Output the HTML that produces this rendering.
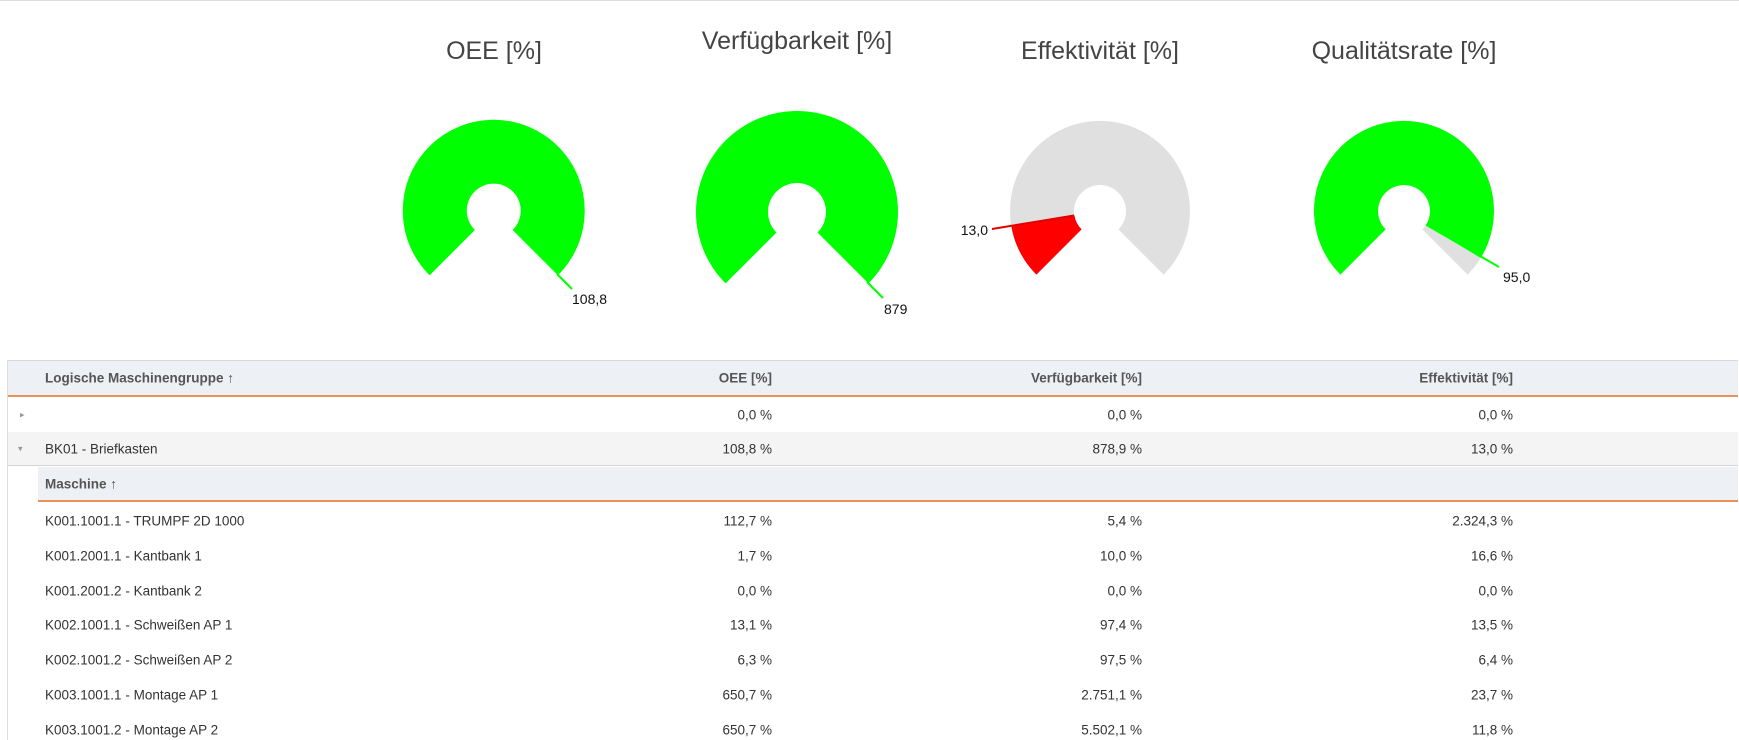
<!DOCTYPE html>
<html><head><meta charset="utf-8"><style>
body{margin:0;width:1739px;height:740px;overflow:hidden;background:#fff;font-family:"Liberation Sans",sans-serif;position:relative}
.t{position:absolute;white-space:nowrap}
.title{font-size:25px;color:#444;font-weight:300;transform:translateX(-50%)}
.c{font-size:13.5px;color:#333;transform:translateY(-50%)}
.r{text-align:right}
.h{font-weight:bold;color:#555}
.band{position:absolute;left:8px;right:1px}
</style></head><body>
<div style="position:absolute;left:0;top:0;width:1739px;height:1px;background:#ddd"></div>
<div class="t title" style="left:494px;top:37px">OEE [%]</div>
<div class="t title" style="left:797px;top:27px">Verfügbarkeit [%]</div>
<div class="t title" style="left:1100px;top:37px">Effektivität [%]</div>
<div class="t title" style="left:1404px;top:37px">Qualitätsrate [%]</div>
<svg width="1739" height="360" style="position:absolute;left:0;top:0">
<g font-family="Liberation Sans,sans-serif" font-size="14" fill="#111">
<!-- OEE -->
<path d="M429.6,275.3 A91,91 0 1 1 557.9,275.3 L512.6,230 A27,27 0 1 0 474.9,230 Z" fill="#00ff00"/>
<line x1="557" y1="274" x2="572" y2="289" stroke="#00ff00" stroke-width="2"/>
<text x="572" y="304">108,8</text>
<!-- Verf -->
<path d="M725.6,283.4 A101,101 0 1 1 868.4,283.4 L817.5,232.5 A29,29 0 1 0 776.5,232.5 Z" fill="#00ff00"/>
<line x1="867" y1="282" x2="883" y2="298" stroke="#00ff00" stroke-width="2"/>
<text x="884" y="314">879</text>
<!-- Eff -->
<path d="M1036.4,274.6 A90,90 0 1 1 1163.6,274.6 L1118.4,229.4 A26,26 0 1 0 1081.6,229.4 Z" fill="#e0e0e0"/>
<path d="M1036.4,274.6 A90,90 0 0 1 1011.4,226.6 L1074.4,215.5 A26,26 0 0 0 1081.6,229.4 Z" fill="#ff0000"/>
<line x1="1074" y1="215.5" x2="992" y2="229" stroke="#e00000" stroke-width="2"/>
<text x="988" y="235" text-anchor="end">13,0</text>
<!-- Qual -->
<path d="M1340.4,274.6 A90,90 0 1 1 1467.6,274.6 L1422.4,229.4 A26,26 0 1 0 1385.6,229.4 Z" fill="#e0e0e0"/>
<path d="M1340.4,274.6 A90,90 0 1 1 1480.7,258 L1426.2,224.6 A26,26 0 1 0 1385.6,229.4 Z" fill="#00ff00"/>
<line x1="1426" y1="224.6" x2="1499" y2="267" stroke="#00ff00" stroke-width="2"/>
<text x="1503" y="282">95,0</text>
</g></svg>

<!-- table -->
<div style="position:absolute;left:7px;top:360px;width:1px;height:380px;background:#ddd"></div>
<div class="band" style="top:360px;height:1px;background:#d8d8d8"></div>
<div class="band" style="top:361px;height:34px;background:#edf0f5"></div>
<div class="band" style="top:395px;height:2px;background:#e8925a"></div>
<div class="band" style="top:432px;height:33px;background:#f4f4f4"></div>
<div class="band" style="top:465px;height:1px;background:#d4d4d4"></div>
<div style="position:absolute;left:38px;right:1px;top:467px;height:33px;background:#edf0f5"></div>
<div style="position:absolute;left:38px;right:1px;top:500px;height:2px;background:#e8925a"></div>

<div class="t c h" style="left:45px;top:378px">Logische Maschinengruppe ↑</div>
<div class="t c h r" style="right:967px;top:378px">OEE [%]</div>
<div class="t c h r" style="right:597px;top:378px">Verfügbarkeit [%]</div>
<div class="t c h r" style="right:226px;top:378px">Effektivität [%]</div>

<div class="t c" style="left:20px;top:415px;font-size:9px;color:#999">▸</div>
<div class="t c r" style="right:967px;top:415px">0,0 %</div>
<div class="t c r" style="right:597px;top:415px">0,0 %</div>
<div class="t c r" style="right:226px;top:415px">0,0 %</div>

<div class="t c" style="left:18px;top:449px;font-size:9px;color:#999">▾</div>
<div class="t c" style="left:45px;top:449px">BK01 - Briefkasten</div>
<div class="t c r" style="right:967px;top:449px">108,8 %</div>
<div class="t c r" style="right:597px;top:449px">878,9 %</div>
<div class="t c r" style="right:226px;top:449px">13,0 %</div>

<div class="t c h" style="left:45px;top:484px">Maschine ↑</div>

<div class="t c" style="left:45px;top:521px">K001.1001.1 - TRUMPF 2D 1000</div>
<div class="t c r" style="right:967px;top:521px">112,7 %</div>
<div class="t c r" style="right:597px;top:521px">5,4 %</div>
<div class="t c r" style="right:226px;top:521px">2.324,3 %</div>

<div class="t c" style="left:45px;top:556px">K001.2001.1 - Kantbank 1</div>
<div class="t c r" style="right:967px;top:556px">1,7 %</div>
<div class="t c r" style="right:597px;top:556px">10,0 %</div>
<div class="t c r" style="right:226px;top:556px">16,6 %</div>

<div class="t c" style="left:45px;top:591px">K001.2001.2 - Kantbank 2</div>
<div class="t c r" style="right:967px;top:591px">0,0 %</div>
<div class="t c r" style="right:597px;top:591px">0,0 %</div>
<div class="t c r" style="right:226px;top:591px">0,0 %</div>

<div class="t c" style="left:45px;top:625px">K002.1001.1 - Schweißen AP 1</div>
<div class="t c r" style="right:967px;top:625px">13,1 %</div>
<div class="t c r" style="right:597px;top:625px">97,4 %</div>
<div class="t c r" style="right:226px;top:625px">13,5 %</div>

<div class="t c" style="left:45px;top:660px">K002.1001.2 - Schweißen AP 2</div>
<div class="t c r" style="right:967px;top:660px">6,3 %</div>
<div class="t c r" style="right:597px;top:660px">97,5 %</div>
<div class="t c r" style="right:226px;top:660px">6,4 %</div>

<div class="t c" style="left:45px;top:695px">K003.1001.1 - Montage AP 1</div>
<div class="t c r" style="right:967px;top:695px">650,7 %</div>
<div class="t c r" style="right:597px;top:695px">2.751,1 %</div>
<div class="t c r" style="right:226px;top:695px">23,7 %</div>

<div class="t c" style="left:45px;top:730px">K003.1001.2 - Montage AP 2</div>
<div class="t c r" style="right:967px;top:730px">650,7 %</div>
<div class="t c r" style="right:597px;top:730px">5.502,1 %</div>
<div class="t c r" style="right:226px;top:730px">11,8 %</div>
</body></html>
